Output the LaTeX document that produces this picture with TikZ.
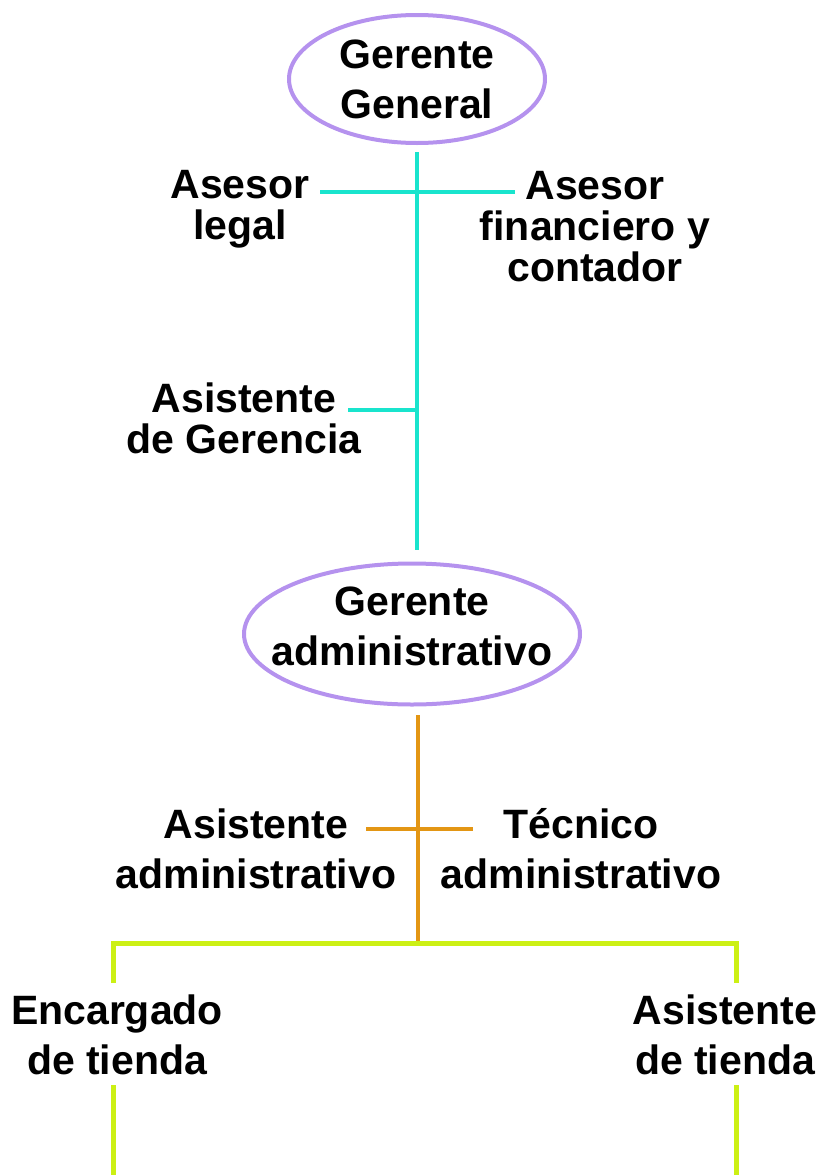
\documentclass[tikz,border=0pt]{standalone}
\usepackage{fontspec}
\setmainfont{Liberation Sans}
\usetikzlibrary{shapes.geometric}
\definecolor{lila}{RGB}{181,146,238}
\definecolor{turquesa}{RGB}{25,228,205}
\definecolor{naranja}{RGB}{227,150,20}
\definecolor{lima}{RGB}{204,240,20}
\tikzset{
  jefe/.style={ellipse, draw=lila, line width=4pt, inner sep=0pt},
  cargo/.style={align=center, inner sep=0pt, font=\fontsize{41}{41}\selectfont\bfseries},
  cargoancho/.style={align=center, inner sep=0pt, font=\fontsize{41}{50}\selectfont\bfseries},
  lineaT/.style={draw=turquesa, line width=4pt},
  lineaN/.style={draw=naranja, line width=4pt},
  lineaL/.style={draw=lima, line width=5pt}
}
\begin{document}
\begin{tikzpicture}[x=1pt,y=-1pt]
  \useasboundingbox (0,0) rectangle (826,1175);
  % jefes
  \node[jefe, minimum width=256pt, minimum height=128pt] (ggen) at (417,79) {};
  \node[cargoancho] (tgen) at (417,79) {Gerente\\General};
  \node[jefe, minimum width=336pt, minimum height=141pt] (gadm) at (412,634) {};
  \node[cargoancho] (tadm) at (412,626) {Gerente\\administrativo};
  % asesores
  \node[cargo] (legal) at (240,209) {Asesor\\legal};
  \node[cargo] (finan) at (595,227) {Asesor\\financiero y\\contador};
  \node[cargo] (asger) at (244,418) {Asistente\\de Gerencia};
  % administrativos
  \node[cargoancho] (asadm) at (256,849) {Asistente\\administrativo};
  \node[cargoancho] (tecadm) at (581,849) {Técnico\\administrativo};
  % tienda
  \node[cargoancho] (enc) at (117,1035) {Encargado\\de tienda};
  \node[cargoancho] (astie) at (725,1035) {Asistente\\de tienda};
  % puntos de union
  \coordinate (t1) at (417,152);
  \coordinate (t2) at (417,550);
  \coordinate (jl) at (320,192);
  \coordinate (jr) at (515,192);
  \coordinate (jg) at (348,410);
  \coordinate (jgv) at (417,410);
  \coordinate (n1) at (418,715);
  \coordinate (n2) at (418,943);
  \coordinate (na) at (366,829);
  \coordinate (nb) at (473,829);
  \coordinate (l1) at (113,943);
  \coordinate (l2) at (736,943);
  \coordinate (l1a) at (113,983);
  \coordinate (l2a) at (736,983);
  \coordinate (l1b) at (113,1085);
  \coordinate (l2b) at (736,1085);
  \coordinate (l1c) at (113,1175);
  \coordinate (l2c) at (736,1175);
  % lineas
  \draw[lineaT] (t1) -- (t2);        % gerencia
  \draw[lineaT] (jl) -- (jr);        % asesores
  \draw[lineaT] (jg) -- (jgv);       % asistente
  \draw[lineaN] (n1) -- (n2);        % administracion
  \draw[lineaN] (na) -- (nb);        % administrativos
  \draw[lineaL] (l1a) -- (l1) -- (l2) -- (l2a);   % tienda
  \draw[lineaL] (l1b) -- (l1c);
  \draw[lineaL] (l2b) -- (l2c);
\end{tikzpicture}
\end{document}
